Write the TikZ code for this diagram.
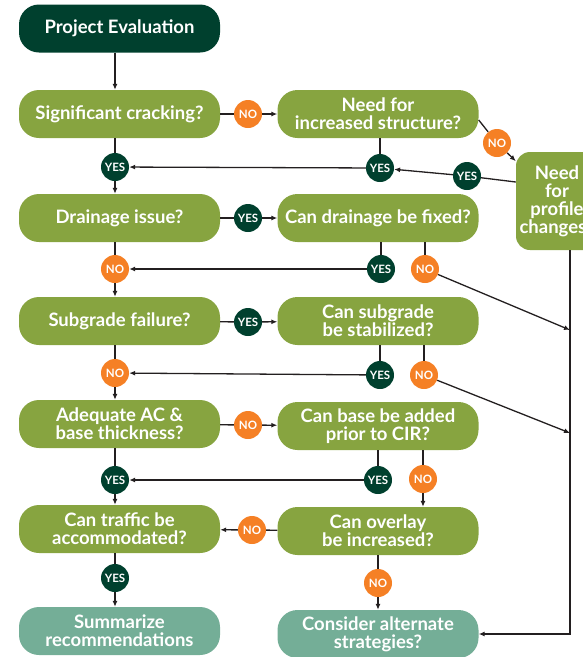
\documentclass[tikz,border=0pt]{standalone}
\usepackage{fontspec}
\setmainfont{Lato}
\usetikzlibrary{arrows.meta,calc}
\definecolor{dkgreen}{HTML}{00402E}
\definecolor{leaf}{HTML}{87A440}
\definecolor{sage}{HTML}{74AE97}
\definecolor{amber}{HTML}{F58025}
\definecolor{ink}{HTML}{231F20}

\begin{document}
\begin{tikzpicture}[x=1pt, y=-1pt,
  qbox/.style={fill=leaf, rounded corners=20pt, minimum width=201pt,
               minimum height=48pt, align=center, text=white, inner sep=1pt,
               font=\bfseries\fontsize{18.5}{18}\selectfont},
  ebox/.style={qbox, fill=sage},
  pbox/.style={qbox, minimum width=82pt, minimum height=98pt, rounded corners=14pt},
  yes/.style={circle, fill=dkgreen, text=white, minimum size=28pt, inner sep=0pt,
              font=\bfseries\fontsize{11.5}{12}\selectfont},
  no/.style={yes, fill=amber},
  ln/.style={draw=ink, line width=1.3pt},
  ar/.style={ln, -{Latex[length=6pt,width=5pt]}},
]
\clip (0,0) rectangle (583,657);
% boxes
\node[qbox, fill=dkgreen] (proj) at (119.5,28.5) {Project Evaluation};
\node[qbox] (crack)  at (119.5,114) {Significant cracking?};
\node[qbox] (struct) at (378,114)   {Need for\\increased structure?};
\node[pbox] (prof)   at (557,201)   {Need\\for\\profile\\changes?};
\node[qbox] (drain)  at (119.5,218) {Drainage issue?};
\node[qbox] (drfix)  at (378,218)   {Can drainage be fixed?};
\node[qbox] (subg)   at (119.5,321) {Subgrade failure?};
\node[qbox] (stab)   at (378,321)   {Can subgrade\\be stabilized?};
\node[qbox] (adeq)   at (119.5,424) {Adequate AC \&\\base thickness?};
\node[qbox] (base)   at (378,426)   {Can base be added\\prior to CIR?};
\node[qbox] (traf)   at (119.5,529) {Can traffic be\\accommodated?};
\node[qbox] (over)   at (378,531)   {Can overlay\\be increased?};
\node[ebox] (summ)   at (119.5,631) {Summarize\\recommendations};
\node[ebox] (alt)    at (378,634)   {Consider alternate\\strategies?};
% answers
\node[no]  (no1) at (248,114) {NO};
\node[no]  (no2) at (497,143) {NO};
\node[yes] (yL1) at (115,167) {YES};
\node[yes] (ys1) at (380,168) {YES};
\node[yes] (ys2) at (467,176) {YES};
\node[yes] (ys3) at (248,218) {YES};
\node[no]  (nL2) at (115,269) {NO};
\node[yes] (ys4) at (381,269) {YES};
\node[no]  (no3) at (425,269) {NO};
\node[yes] (ys5) at (248,322) {YES};
\node[no]  (nL3) at (115,373) {NO};
\node[yes] (ys6) at (380,375) {YES};
\node[no]  (no4) at (424,375) {NO};
\node[no]  (no5) at (248,425) {NO};
\node[yes] (yL4) at (115,480) {YES};
\node[yes] (ys7) at (378,480) {YES};
\node[no]  (no6) at (423,479) {NO};
\node[no]  (no7) at (252,530) {NO};
\node[yes] (yL5) at (115,578) {YES};
\node[no]  (no8) at (378,583) {NO};
\coordinate (j1) at (570,330);
\coordinate (j2) at (570,433);
% left column
\draw[ar] (proj.south -| yL1) -- (crack.north -| yL1);
\draw[ln] (crack.south -| yL1) -- (yL1);
\draw[ar] (yL1) -- (drain.north -| yL1);
\draw[ln] (drain.south -| nL2) -- (nL2);
\draw[ar] (nL2) -- (subg.north -| nL2);
\draw[ln] (subg.south -| nL3) -- (nL3);
\draw[ar] (nL3) -- (adeq.north -| nL3);
\draw[ln] (adeq.south -| yL4) -- (yL4);
\draw[ar] (yL4) -- (traf.north -| yL4);
\draw[ln] (traf.south -| yL5) -- (yL5);
\draw[ar] (yL5) -- (summ.north -| yL5);
% across
\draw[ln] (crack) -- (no1);
\draw[ar] (no1) -- (struct);
\draw[ln] (drain) -- (ys3);
\draw[ar] (ys3) -- (drfix);
\draw[ln] (subg) -- (ys5);
\draw[ar] (ys5) -- (stab);
\draw[ln] (adeq) -- (no5);
\draw[ar] (no5) -- (base);
\draw[ln] (over) -- (no7);
\draw[ar] (no7) -- (traf);
% right column
\draw[ln] (struct.south -| ys1) -- (ys1);
\draw[ar] (ys1) -- (yL1);
\draw[ln] (drfix.south -| ys4) -- (ys4);
\draw[ar] (ys4) -- (nL2);
\draw[ln] (drfix.south -| no3) -- (no3);
\draw[ar] (no3) -- (j1);
\draw[ln] (stab.south -| ys6) -- (ys6);
\draw[ar] (ys6) -- (nL3);
\draw[ln] (stab.south -| no4) -- (no4);
\draw[ar] (no4) -- (j2);
\draw[ln] (base.south -| ys7) -- (ys7);
\draw[ar] (ys7) -- (yL4);
\draw[ln] (base.south -| no6) -- (no6);
\draw[ar] (no6) -- (over.north -| no6);
\draw[ln] (over.south -| no8) -- (no8);
\draw[ar] (no8) -- (alt.north -| no8);
% profile branch
\draw[ln] ([yshift=-6pt]struct.east) -- (no2);
\draw[ar] (no2) -- (prof);
\draw[ln] ([yshift=19pt]prof.west) -- (ys2);
\draw[ar] (ys2) -- (ys1);
\draw[ar] (prof.south -| j1) |- (alt);
\end{tikzpicture}
\end{document}
